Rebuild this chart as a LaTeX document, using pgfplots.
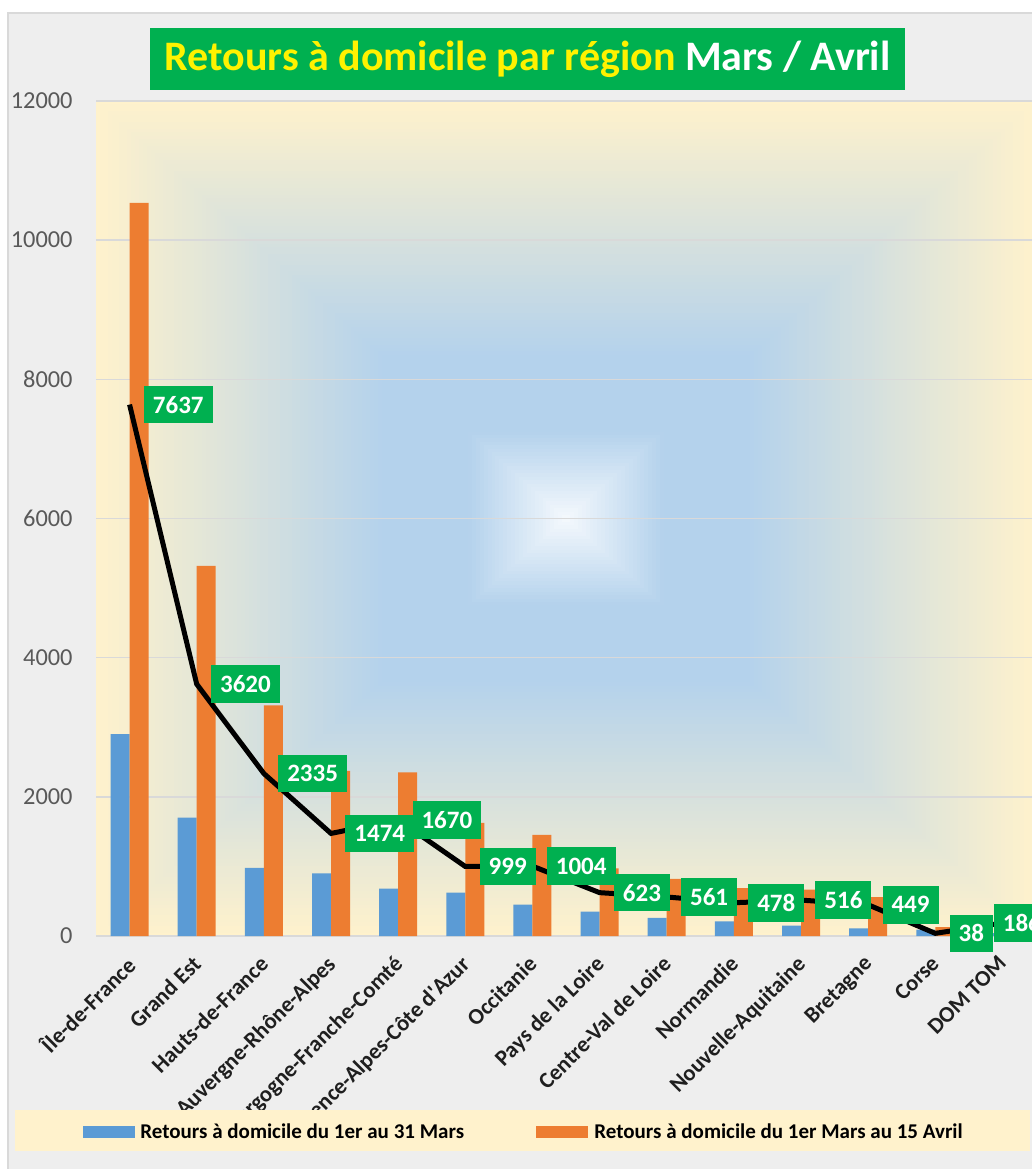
\documentclass[border=0pt]{standalone}
\usepackage{fontspec}
\setmainfont{Carlito}
\usepackage{pgfplots}
\pgfplotsset{compat=1.18}
\definecolor{chartbg}{HTML}{EEEEEE}
\definecolor{chartborder}{HTML}{D9D9D9}
\definecolor{creamc}{HTML}{FFF2CC}
\definecolor{bluebgc}{HTML}{B4D2EC}
\definecolor{centerc}{HTML}{F5F9FD}
\definecolor{barblue}{HTML}{5B9BD5}
\definecolor{barorange}{HTML}{ED7D31}
\definecolor{labgreen}{HTML}{00B050}
\definecolor{tickgray}{HTML}{595959}
\tikzset{greenlab/.style={anchor=west, yshift=0pt, fill=labgreen, text=white,
    font=\fontsize{12.5}{14}\selectfont\bfseries, inner xsep=4.5pt, inner ysep=0pt, minimum height=18.8pt}}

\begin{document}
\begin{tikzpicture}
\useasboundingbox (0,0) rectangle (516pt,584.5pt);
\fill[white] (0,0) rectangle (516pt,584.5pt);
\fill[chartbg] (4pt,0) rectangle (520pt,578pt);
\draw[chartborder, line width=0.75pt] (4pt,0) -- (4pt,578pt) -- (520pt,578pt);

% rectangular gradient behind the plot area
\foreach \i in {0,...,120}{
  \pgfmathsetmacro\d{1-\i/120}
  \pgfmathsetmacro\p{int(max(0,min(100,(\d-0.39)/0.61*100)))}
  \pgfmathsetmacro\q{int(max(0,min(100,\d/0.21*100)))}
  \fill[creamc!\p!bluebgc!\q!centerc] (283pt-\d*235pt, 325.25pt-\d*208.75pt) rectangle (283pt+\d*235pt, 325.25pt+\d*208.75pt);
}

\begin{axis}[
  at={(48pt,116.5pt)}, anchor=south west,
  scale only axis, width=470pt, height=417.5pt,
  xmin=-0.5, xmax=13.5, ymin=0, ymax=12000,
  ytick={0,2000,...,12000}, xtick={0,...,13},
  xticklabels={Île-de-France, Grand Est, Hauts-de-France, Auvergne-Rhône-Alpes, Bourgogne-Franche-Comté, Provence-Alpes-Côte d\textquotesingle Azur, Occitanie, Pays de la Loire, Centre-Val de Loire, Normandie, Nouvelle-Aquitaine, Bretagne, Corse, DOM TOM},
  scaled y ticks=false,
  ymajorgrids, grid style={chartborder, line width=0.75pt},
  axis x line*=bottom, axis y line*=left,
  x axis line style={chartborder, line width=1.2pt, -},
  y axis line style={draw=none},
  major tick length=0pt,
  clip=false,
  yticklabel style={/pgf/number format/assume math mode=true, /pgf/number format/1000 sep={},
    font=\fontsize{12.2}{14}\selectfont, text=tickgray, anchor=east, inner sep=0pt, xshift=-11.5pt},
  xticklabel style={rotate=45, anchor=north east, inner sep=0pt, xshift=-8.3pt, yshift=-4.4pt,
    font=\fontsize{11.3}{13}\selectfont\bfseries, text=black!88},
]
\addplot[fill=barblue, draw=none, ybar, bar width=9.5pt, bar shift=-4.75pt] coordinates {
(0,2900) (1,1700) (2,980) (3,900) (4,680) (5,625) (6,450) (7,350) (8,260) (9,210) (10,150) (11,110) (12,90) (13,40)};
\addplot[fill=barorange, draw=none, ybar, bar width=9.5pt, bar shift=4.75pt] coordinates {
(0,10537) (1,5320) (2,3315) (3,2374) (4,2350) (5,1624) (6,1454) (7,973) (8,821) (9,688) (10,666) (11,559) (12,128) (13,226)};
\addplot[black, line width=2.5pt, sharp plot, mark=none] coordinates {
(0,7637) (1,3620) (2,2335) (3,1474) (4,1670) (5,999) (6,1004)
(7,623) (8,561) (9,478) (10,516) (11,449) (12,38) (13,186)};
\addplot[draw=none, mark=none, point meta=explicit symbolic, nodes near coords,
  nodes near coords style={greenlab, xshift=7pt}] coordinates {
(0,7637) [7637] (1,3620) [3620] (2,2335) [2335] (3,1474) [1474] (4,1670) [1670] (5,999) [999] (6,1004) [1004]
(7,623) [623] (8,561) [561] (9,478) [478] (10,516) [516] (11,449) [449] (12,38) [38]};
\addplot[draw=none, mark=none, point meta=explicit symbolic, nodes near coords,
  nodes near coords style={greenlab, xshift=-4.5pt}] coordinates {(13,186) [186]};
\end{axis}

% legend
\fill[creamc] (7.5pt,9pt) rectangle (515pt,29.5pt);
\fill[barblue] (41.5pt,15.5pt) rectangle (67.5pt,21.5pt);
\node[anchor=west, inner sep=0pt, font=\fontsize{10.5}{12}\selectfont\bfseries] at (70pt,19pt) {Retours à domicile du 1er au 31 Mars};
\fill[barorange] (268pt,15.5pt) rectangle (294pt,21.5pt);
\node[anchor=west, inner sep=0pt, font=\fontsize{10.5}{12}\selectfont\bfseries] at (297pt,19pt) {Retours à domicile du 1er Mars au 15 Avril};

% title
\node[fill=labgreen, minimum width=377.5pt, minimum height=31pt, inner sep=0pt, font=\fontsize{21}{24}\selectfont\bfseries] at (263.75pt,555pt)
  {\textcolor{yellow}{Retours à domicile par région} \textcolor{white}{Mars / Avril}};
\end{tikzpicture}
\end{document}
